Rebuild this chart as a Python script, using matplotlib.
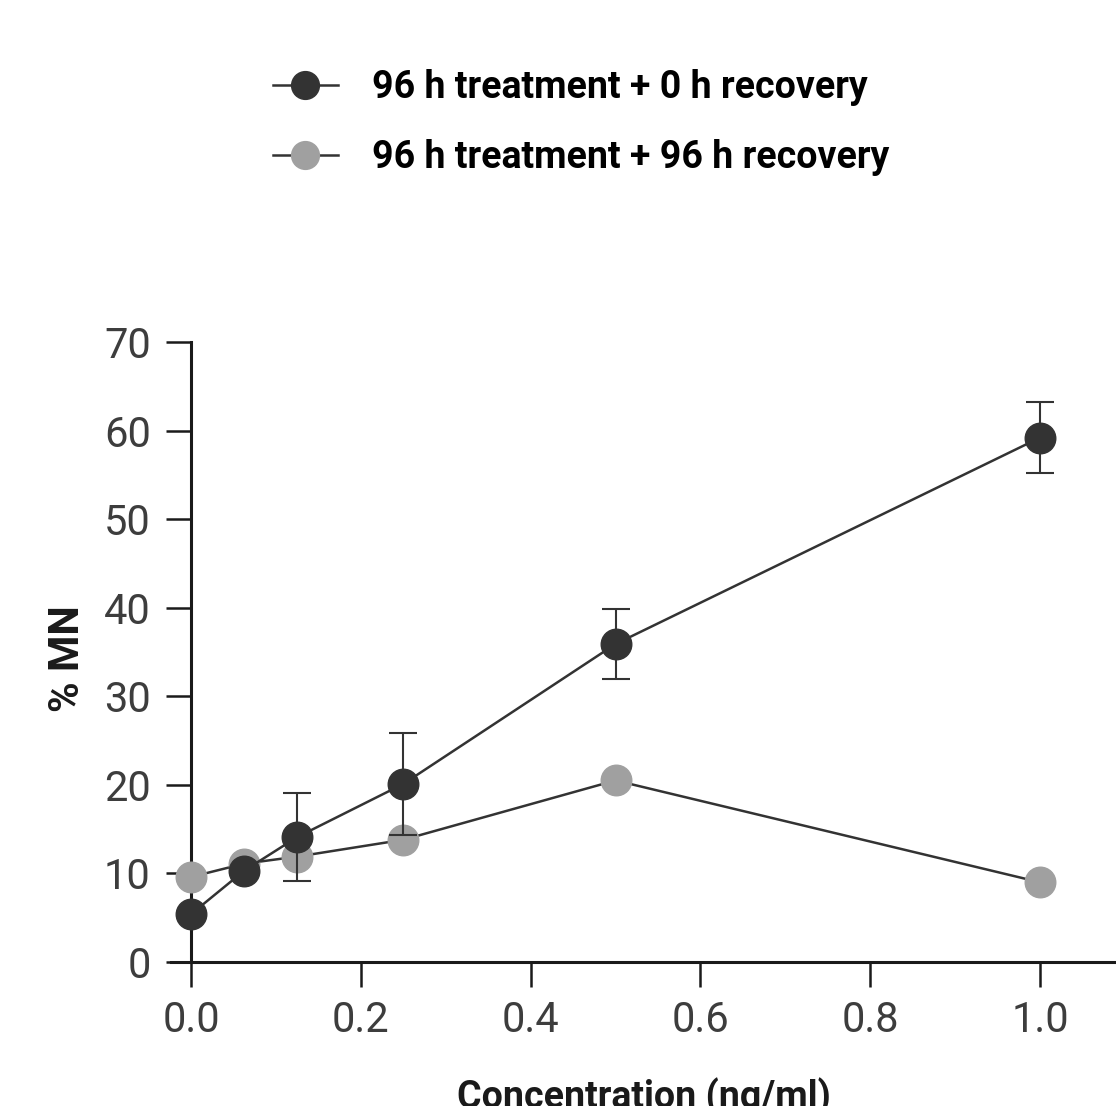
import matplotlib
matplotlib.use("Agg")
import matplotlib.pyplot as plt
from matplotlib.lines import Line2D

# concentration (ng/ml)
conc = [0.0, 0.0625, 0.125, 0.25, 0.5, 1.0]
# % MN, 96 h treatment + 0 h recovery
mn_0h = [5.4, 10.3, 14.1, 20.1, 35.9, 59.2]
mn_0h_err = [0.0, 0.0, 5.0, 5.8, 4.0, 4.0]
# % MN, 96 h treatment + 96 h recovery
mn_96h = [9.6, 11.1, 11.9, 13.8, 20.5, 9.0]

labels = ["96 h treatment + 0 h recovery", "96 h treatment + 96 h recovery"]
xticks = [0.0, 0.2, 0.4, 0.6, 0.8, 1.0]
yticks = [0, 10, 20, 30, 40, 50, 60, 70]

dark = "#333333"
light = "#a0a0a0"
fam = ["Roboto", "DejaVu Sans"]

fig = plt.figure(figsize=(11.16, 11.06), dpi=100)
ax = fig.add_axes([171 / 1116, 144 / 1106, 1 - 171 / 1116, 620 / 1106])

ax.plot(conc, mn_96h, color=dark, lw=1.8, marker="o", ms=22,
        mfc=light, mec=light, zorder=3, clip_on=False)
ax.errorbar(conc, mn_0h, yerr=mn_0h_err, color=dark, lw=1.8, marker="o", ms=22,
            mfc=dark, mec=dark, ecolor=dark, elinewidth=1.5, capsize=10,
            capthick=1.5, zorder=4, clip_on=False)

ax.set_xlim(-0.0236, 1.0895)
ax.set_ylim(0, 70)
ax.spines["left"].set_position(("data", 0))
ax.spines["right"].set_visible(False)
ax.spines["top"].set_visible(False)
for s in ("left", "bottom"):
    ax.spines[s].set_linewidth(2.2)
    ax.spines[s].set_color("#1a1a1a")

ax.set_xticks(xticks)
ax.set_xticklabels([f"{v:.1f}" for v in xticks])
ax.set_yticks(yticks)
ax.tick_params(axis="both", direction="out", length=18, width=1.8,
               color="#1a1a1a", labelsize=30, labelcolor="#3d3d3d")
ax.tick_params(axis="y", pad=11)
ax.tick_params(axis="x", pad=9)
for t in ax.get_xticklabels() + ax.get_yticklabels():
    t.set_family(fam)
    t.set_fontweight("normal")

ax.set_ylabel("% MN", fontsize=30, fontweight="bold", family=fam,
              color="#1a1a1a")
ax.yaxis.set_label_coords(-0.088, 0.49)
ax.set_xlabel("Concentration (ng/ml)", fontsize=27, fontweight="bold",
              family=fam, color="#1a1a1a", labelpad=27)

handles = [
    Line2D([], [], color=dark, lw=1.8, marker="o", ms=20, mfc=dark, mec=dark),
    Line2D([], [], color=dark, lw=1.8, marker="o", ms=20, mfc=light, mec=light),
]
fig.legend(handles, labels, loc="upper left", bbox_to_anchor=(254 / 1116, 1 - 50 / 1106),
           frameon=False, borderpad=0, handlelength=1.73, handletextpad=0.92,
           labelspacing=0.88, prop={"family": fam, "weight": "bold", "size": 27})

fig.savefig("out.png", dpi=100)
